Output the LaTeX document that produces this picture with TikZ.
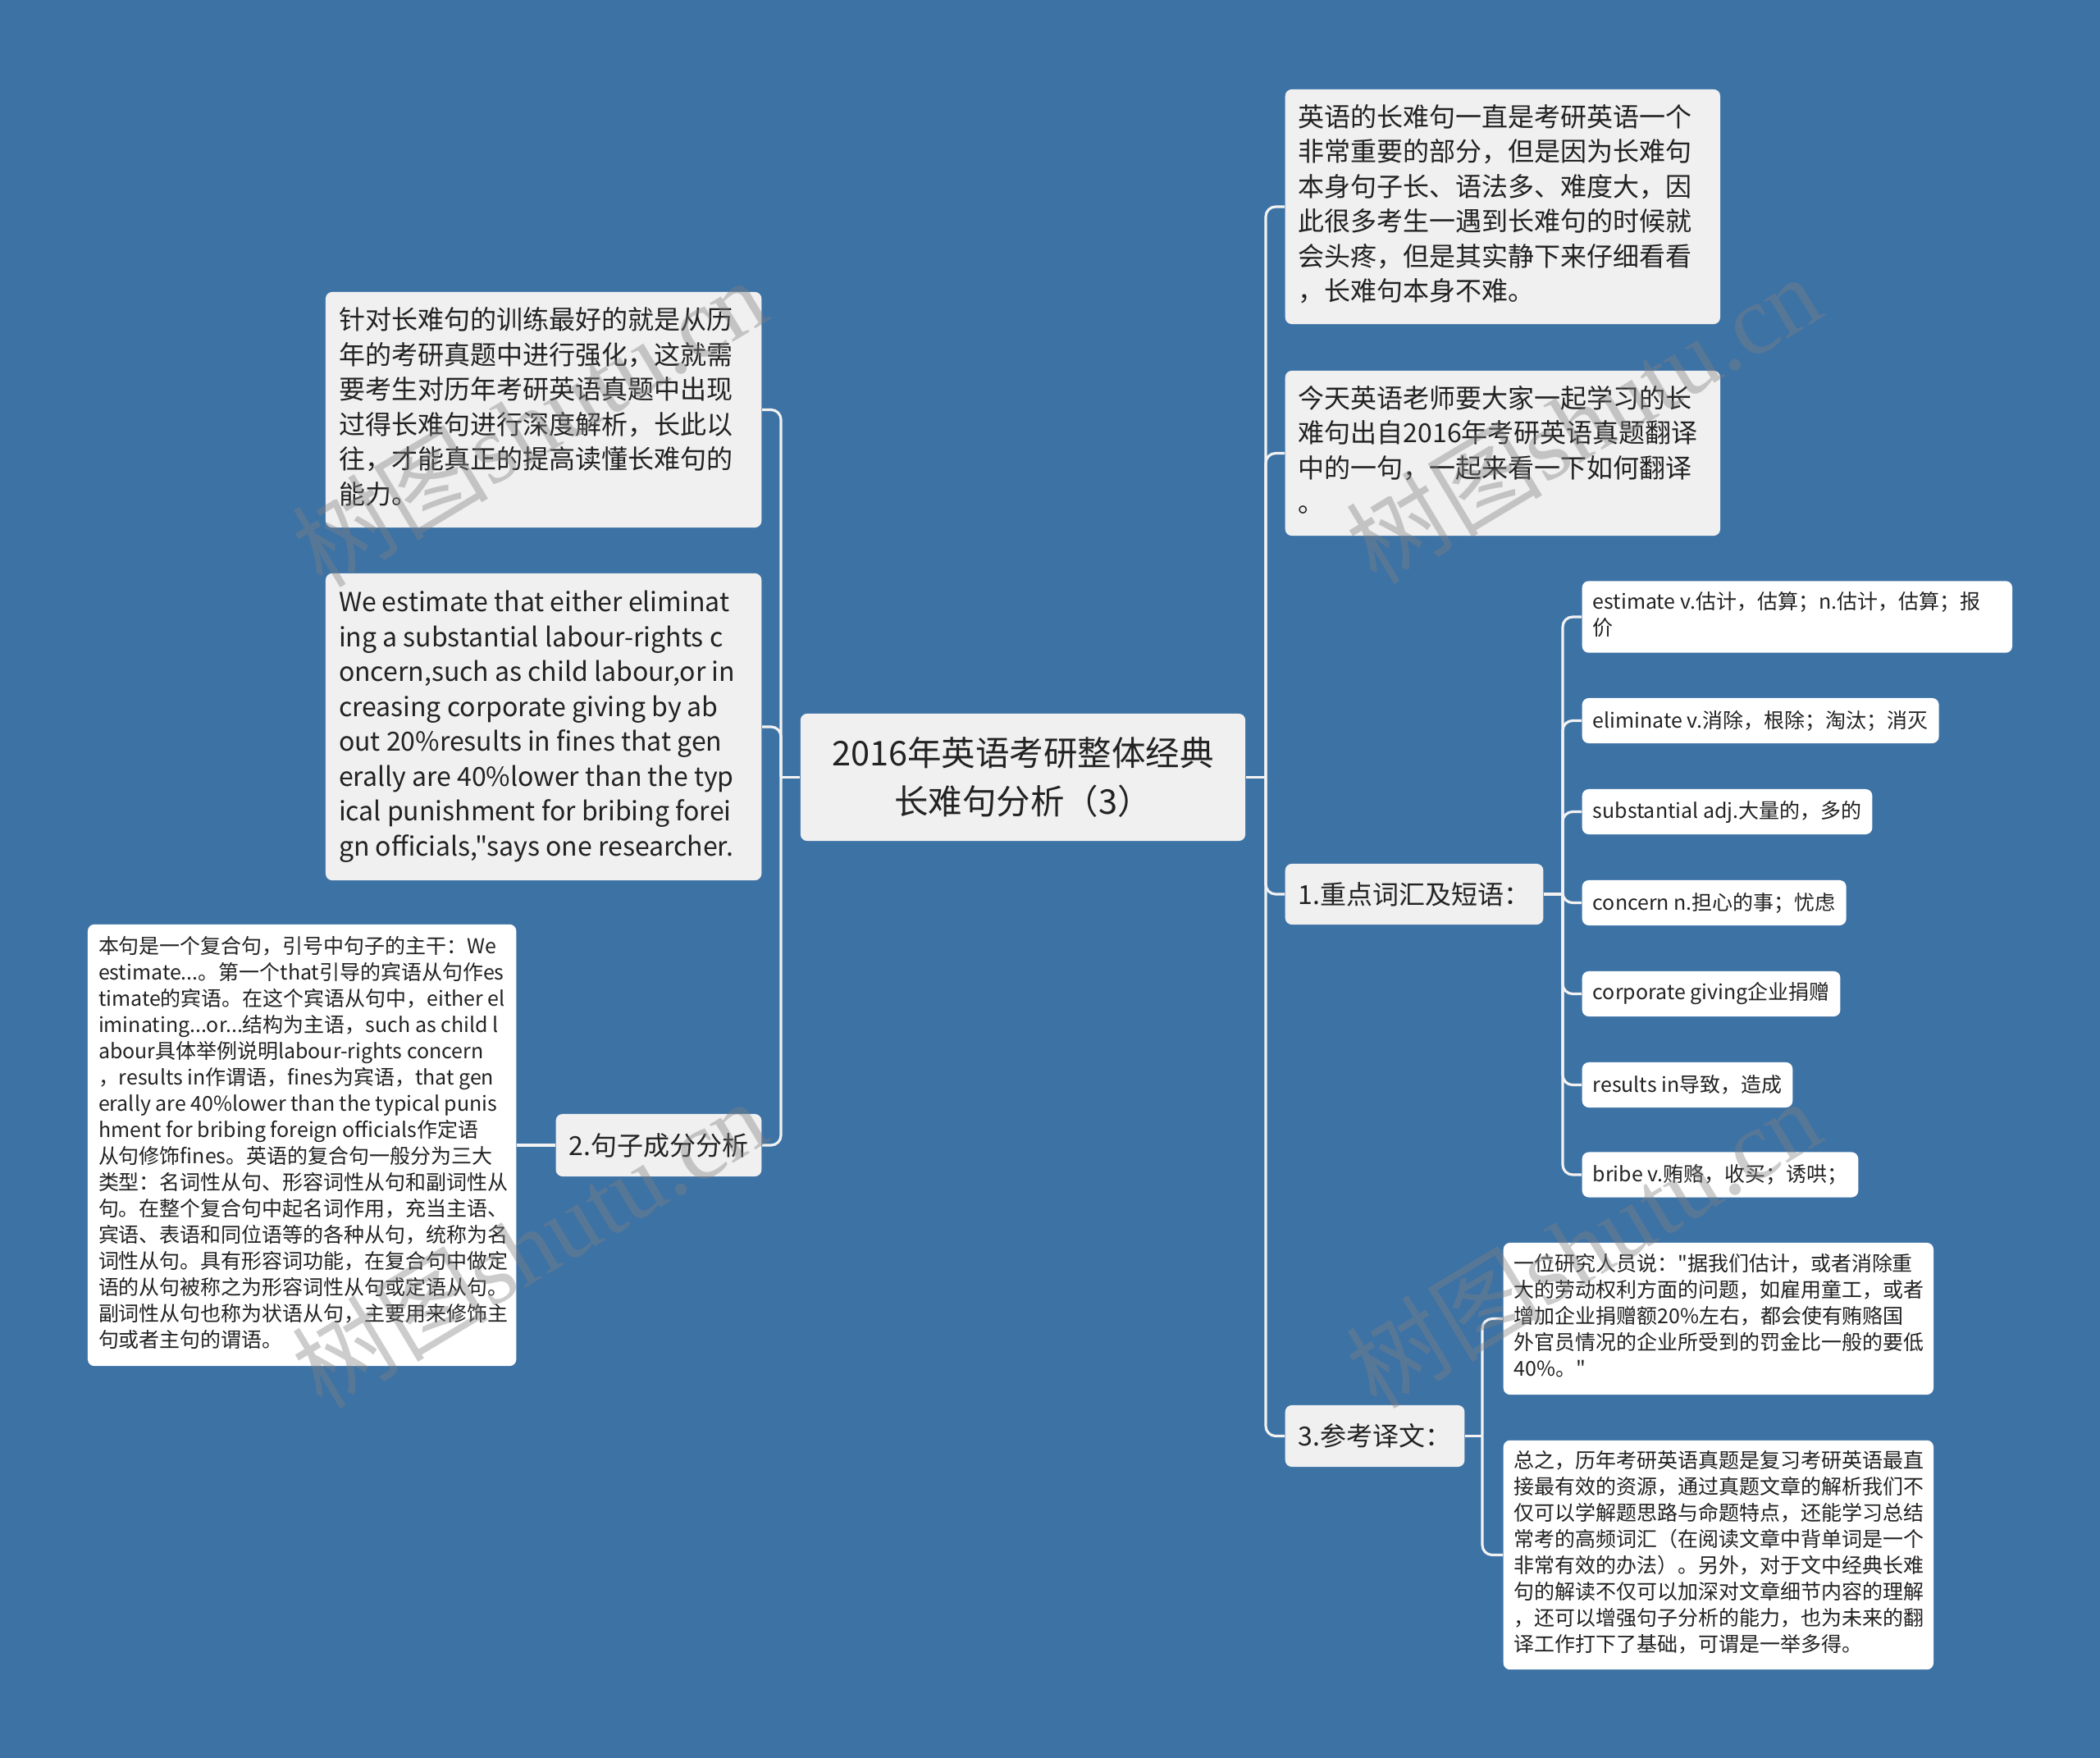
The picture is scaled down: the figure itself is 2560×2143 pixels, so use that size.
\documentclass[tikz,border=0pt]{standalone}
\usepackage{fontspec}
\setmainfont{Noto Sans CJK SC}[Ligatures=TeXOff]
\newfontfamily\wmfont{Liberation Serif}
\usepackage{tikz}
\usetikzlibrary{positioning}

\definecolor{bgblue}{HTML}{3D72A5}
\definecolor{boxgray}{HTML}{F0F0F0}
\definecolor{linkcol}{HTML}{F2F2F2}
\definecolor{txt}{HTML}{222222}

% 左揃えの複数行テキスト
\newcommand{\boxlines}[2]{\makebox[#1][l]{\begin{tabular}{@{}l@{}}#2\end{tabular}}}

\tikzset{
  rootbox/.style={fill=boxgray, rounded corners=0.08cm, text=txt, align=center, inner xsep=0.16cm, font=\fontsize{11.8pt}{16.6pt}\selectfont},
  topicbox/.style={fill=boxgray, rounded corners=0.08cm, text=txt, inner xsep=0.16cm, font=\fontsize{9.1pt}{12.1pt}\selectfont},
  leafbox/.style={fill=white, rounded corners=0.08cm, text=txt, inner xsep=0.13cm, font=\fontsize{7.1pt}{9.1pt}\selectfont},
  link/.style={draw=linkcol, line width=0.9pt, rounded corners=0.12cm},
  wmark/.style={text=black!50, opacity=0.4, rotate=31, font=\fontsize{34pt}{34pt}\selectfont}
}

\begin{document}
\begin{tikzpicture}[x=0.01cm, y=-0.01cm]
  \fill[bgblue] (0,0) rectangle (2560,2143); %背景
  \useasboundingbox (0,0) rectangle (2560,2143);

  \node[rootbox, minimum width=5.42cm, minimum height=1.55cm] (root) at (1247,947.5) {2016年英语考研整体经典\\长难句分析（3）}; %中心

  % 右側
  \node[topicbox, minimum height=2.86cm, anchor=west] (t1) at (1566,252) {\boxlines{4.98cm}{英语的长难句一直是考研英语一个\\非常重要的部分，但是因为长难句\\本身句子长、语法多、难度大，因\\此很多考生一遇到长难句的时候就\\会头疼，但是其实静下来仔细看看\\，长难句本身不难。}};
  \node[topicbox, minimum height=2.01cm, anchor=west] (t2) at (1566,552.5) {\boxlines{4.98cm}{今天英语老师要大家一起学习的长\\难句出自2016年考研英语真题翻译\\中的一句，一起来看一下如何翻译\\。}};
  \node[topicbox, minimum height=0.74cm, anchor=west] (vocab) at (1566,1090) {1.重点词汇及短语：};
  \node[topicbox, minimum height=0.75cm, anchor=west] (trans) at (1566,1750.5) {3.参考译文：};

  \node[leafbox, minimum height=0.86cm, anchor=west] (v1) at (1928,752) {\boxlines{4.98cm}{estimate v.估计，估算；n.估计，估算；报\\价}};
  \node[leafbox, minimum height=0.55cm, anchor=west] (v2) at (1928,878.5) {eliminate v.消除，根除；淘汰；消灭};
  \node[leafbox, minimum height=0.55cm, anchor=west] (v3) at (1928,989.5) {substantial adj.大量的，多的};
  \node[leafbox, minimum height=0.55cm, anchor=west] (v4) at (1928,1100.5) {concern n.担心的事；忧虑};
  \node[leafbox, minimum height=0.55cm, anchor=west] (v5) at (1928,1211.5) {corporate giving企业捐赠};
  \node[leafbox, minimum height=0.55cm, anchor=west] (v6) at (1928,1322.5) {results in导致，造成};
  \node[leafbox, minimum height=0.55cm, anchor=west] (v7) at (1928,1432) {bribe v.贿赂，收买；诱哄；};

  \node[leafbox, minimum height=1.85cm, anchor=west] (r1) at (1832,1607.5) {\boxlines{4.98cm}{一位研究人员说："据我们估计，或者消除重\\大的劳动权利方面的问题，如雇用童工，或者\\增加企业捐赠额20\%左右，都会使有贿赂国\\外官员情况的企业所受到的罚金比一般的要低\\40\%。"}};
  \node[leafbox, minimum height=2.77cm, anchor=west] (r2) at (1832,1895.5) {\boxlines{4.98cm}{总之，历年考研英语真题是复习考研英语最直\\接最有效的资源，通过真题文章的解析我们不\\仅可以学解题思路与命题特点，还能学习总结\\常考的高频词汇（在阅读文章中背单词是一个\\非常有效的办法）。另外，对于文中经典长难\\句的解读不仅可以加深对文章细节内容的理解\\，还可以增强句子分析的能力，也为未来的翻\\译工作打下了基础，可谓是一举多得。}};

  % 左側
  \node[topicbox, minimum height=2.87cm, anchor=east] (l1) at (929,499.5) {\boxlines{4.99cm}{针对长难句的训练最好的就是从历\\年的考研真题中进行强化，这就需\\要考生对历年考研英语真题中出现\\过得长难句进行深度解析，长此以\\往，才能真正的提高读懂长难句的\\能力。}};
  \node[topicbox, minimum height=3.74cm, anchor=east] (l2) at (929,886) {\boxlines{4.99cm}{We estimate that either eliminat\\ing a substantial labour-rights c\\oncern,such as child labour,or in\\creasing corporate giving by ab\\out 20\%results in fines that gen\\erally are 40\%lower than the typ\\ical punishment for bribing forei\\gn officials,"says one researcher.}};
  \node[topicbox, minimum height=0.76cm, anchor=east] (l3) at (929,1396) {2.句子成分分析};
  \node[leafbox, minimum height=5.38cm, anchor=east] (l4) at (630,1396) {\boxlines{4.96cm}{本句是一个复合句，引号中句子的主干：We\\estimate...。第一个that引导的宾语从句作es\\timate的宾语。在这个宾语从句中，either el\\iminating...or...结构为主语，such as child l\\abour具体举例说明labour-rights concern\\，results in作谓语，fines为宾语，that gen\\erally are 40\%lower than the typical punis\\hment for bribing foreign officials作定语\\从句修饰fines。英语的复合句一般分为三大\\类型：名词性从句、形容词性从句和副词性从\\句。在整个复合句中起名词作用，充当主语、\\宾语、表语和同位语等的各种从句，统称为名\\词性从句。具有形容词功能，在复合句中做定\\语的从句被称之为形容词性从句或定语从句。\\副词性从句也称为状语从句，主要用来修饰主\\句或者主句的谓语。}};

  % 接続線
  \coordinate (jr) at (1543,947.5);
  \draw[link] (root.east) -- (jr);
  \draw[link] (jr) |- (t1.west);
  \draw[link] (jr) |- (t2.west);
  \draw[link] (jr) |- (vocab.west);
  \draw[link] (jr) |- (trans.west);

  \coordinate (jv) at (1905,1090);
  \draw[link] (vocab.east) -- (jv);
  \draw[link] (jv) |- (v1.west);
  \draw[link] (jv) |- (v2.west);
  \draw[link] (jv) |- (v3.west);
  \draw[link] (jv) |- (v4.west);
  \draw[link] (jv) |- (v5.west);
  \draw[link] (jv) |- (v6.west);
  \draw[link] (jv) |- (v7.west);

  \coordinate (jt) at (1807,1750.5);
  \draw[link] (trans.east) -- (jt);
  \draw[link] (jt) |- (r1.west);
  \draw[link] (jt) |- (r2.west);

  \coordinate (jl) at (952,947.5);
  \draw[link] (root.west) -- (jl);
  \draw[link] (jl) |- (l1.east);
  \draw[link] (jl) |- (l2.east);
  \draw[link] (jl) |- (l3.east);
  \draw[link] (l3.west) -- (l4.east);

  % 透かし
  \node[wmark] (wm1) at (645,514) {树图{\wmfont shutu.cn}};
  \node[wmark] (wm2) at (1930,510) {树图{\wmfont shutu.cn}};
  \node[wmark] (wm3) at (645,1515) {树图{\wmfont shutu.cn}};
  \node[wmark] (wm4) at (1930,1515) {树图{\wmfont shutu.cn}};
\end{tikzpicture}
\end{document}
